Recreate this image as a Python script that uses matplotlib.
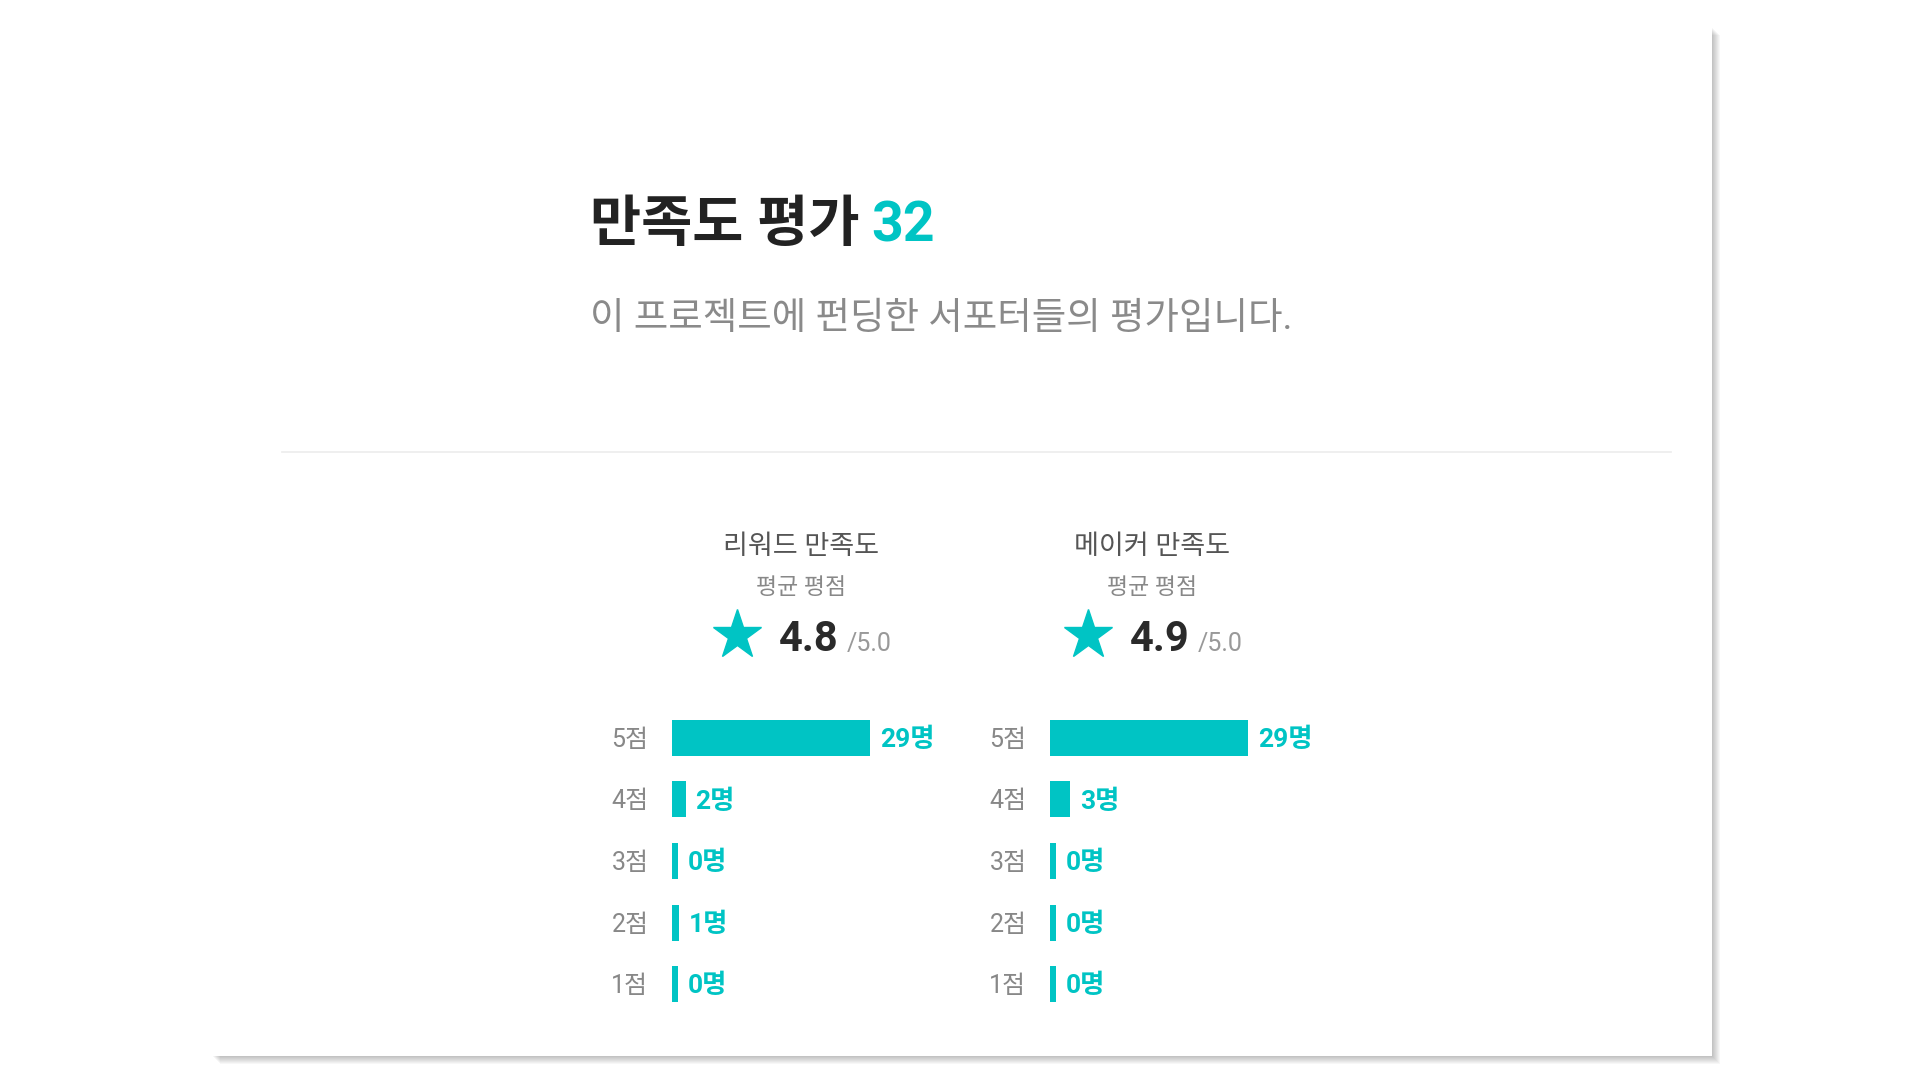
import numpy as np
import matplotlib
matplotlib.use('Agg')
import matplotlib.pyplot as plt
from matplotlib.patches import Rectangle

plt.rcParams['font.family'] = ['Roboto', 'Noto Sans CJK KR', 'DejaVu Sans']

TEAL = '#00c4c4'

# data
title = '만족도 평가'
total = 32
subtitle = '이 프로젝트에 펀딩한 서포터들의 평가입니다.'
scores = ['5점', '4점', '3점', '2점', '1점']
panel_names = ['리워드 만족도', '메이커 만족도']
averages = [4.8, 4.9]
reward_counts = [29, 2, 0, 1, 0]
maker_counts = [29, 3, 0, 0, 0]

W, H = 1920, 1080
fig = plt.figure(figsize=(W / 100, H / 100), dpi=100)
fig.patch.set_facecolor('white')

# background axes in pixel coordinates
bg = fig.add_axes([0, 0, 1, 1])
bg.set_xlim(0, W)
bg.set_ylim(H, 0)
bg.axis('off')

# card with soft shadow
cx0, cy0, cx1, cy1 = 212, 27, 1712, 1056
for i in range(1, 9):
    bg.add_patch(Rectangle((cx0 + i, cy0 + i), cx1 - cx0, cy1 - cy0,
                           facecolor='black', alpha=0.033, lw=0))
bg.add_patch(Rectangle((cx0, cy0), cx1 - cx0, cy1 - cy0, facecolor='white', lw=0))

# header
bg.text(590, 226, title, fontsize=40, fontweight='bold', color='#222222',
        ha='left', va='center')
bg.text(871, 226, str(total), fontsize=40, fontweight='bold', color=TEAL,
        ha='left', va='center')
bg.text(590, 319, subtitle, fontsize=27, color='#8a8a8a', ha='left', va='center')
bg.plot([282, 1671], [452, 452], color='#ececec', lw=1.2)

# panel headers
centers = [801, 1152]
for cx, name, avg in zip(centers, panel_names, averages):
    bg.text(cx, 547, name, fontsize=19.5, color='#555555', ha='center', va='center')
    bg.text(cx, 588, '평균 평점', fontsize=16.5, color='#888888', ha='center', va='center')
    bg.plot(cx - 64, 635, marker='*', ms=37, color=TEAL, mec=TEAL)
    bg.text(cx - 22, 651, f'{avg:.1f}', fontsize=30, fontweight='bold',
            color='#2a2a2a', ha='left', va='baseline')
    bg.text(cx + 46, 651, '/5.0', fontsize=18, color='#999999',
            ha='left', va='baseline')

# bar charts
def bar_panel(x_px, counts):
    ax = fig.add_axes([x_px / W, 1 - 1015 / H, 198 / W, 308 / H])
    ax.set_facecolor('none')
    y = np.arange(len(scores))
    shown = np.maximum(np.array(counts, dtype=float), 0.95)
    ax.barh(y, shown, height=0.585, color=TEAL)
    ax.set_xlim(0, max(counts))
    ax.set_ylim(len(scores) - 0.5, -0.5)
    ax.set_xticks([])
    ax.set_yticks([])
    for s in ax.spines.values():
        s.set_visible(False)
    for yi, lab in zip(y, scores):
        ax.annotate(lab, (0, yi), xytext=(-17, -1.5), textcoords='offset points',
                    fontsize=18, color='#888888', ha='right', va='center',
                    annotation_clip=False)
    for yi, v, w in zip(y, counts, shown):
        ax.annotate(f'{v}명', (w, yi), xytext=(7, -1.5), textcoords='offset points',
                    fontsize=19, fontweight='bold', color=TEAL,
                    ha='left', va='center', annotation_clip=False)
    return ax

bar_panel(672, reward_counts)
bar_panel(1050, maker_counts)

fig.savefig('out.png', dpi=100, facecolor='white')
